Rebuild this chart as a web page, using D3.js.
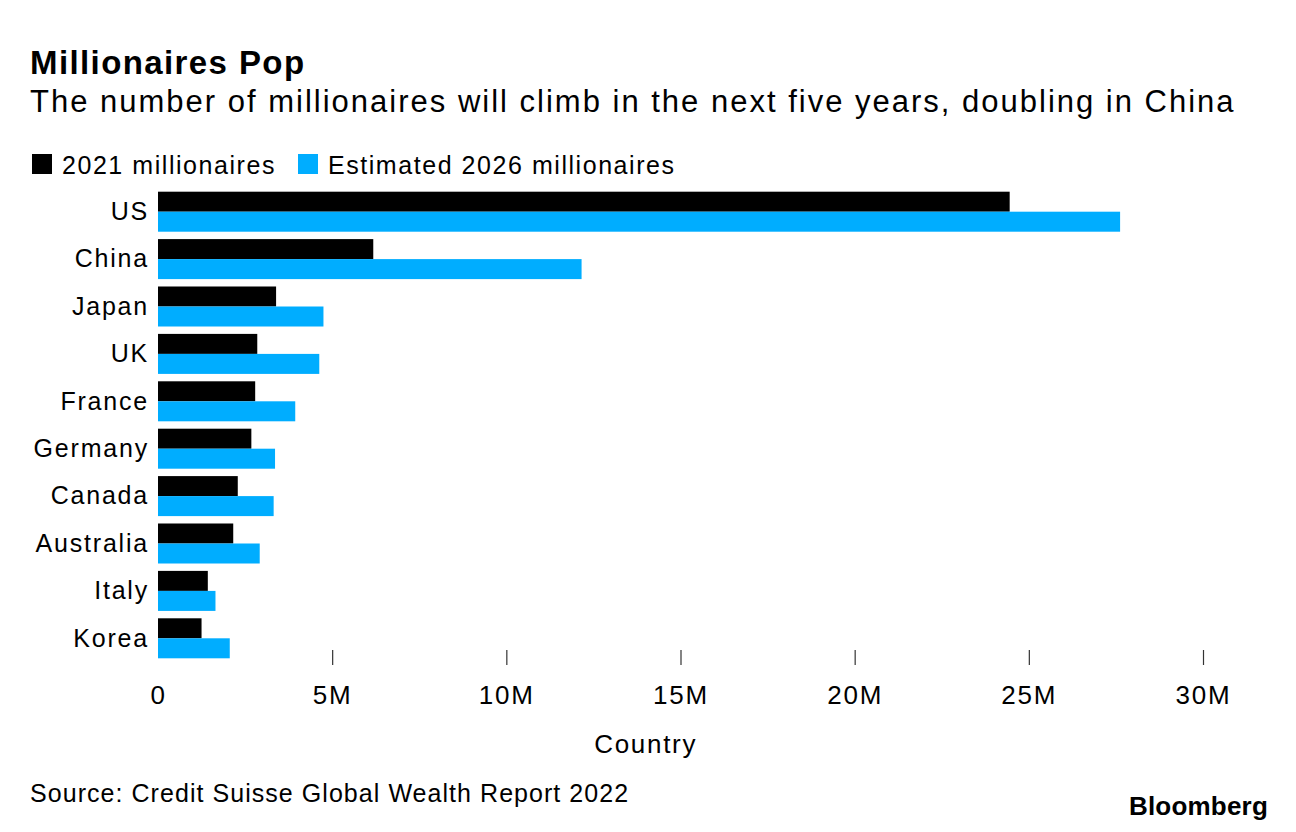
<!DOCTYPE html>
<html>
<head>
<meta charset="utf-8">
<script src="https://cdn.jsdelivr.net/npm/d3@7"></script>
<style>
  html, body { margin: 0; padding: 0; background: #fff; }
  svg text { font-family: "Liberation Sans", Arial, "Helvetica Neue", sans-serif; fill: #000; }
</style>
</head>
<body>
<svg id="chart" width="1296" height="832"></svg>
<script>
const countries = ["US", "China", "Japan", "UK", "France", "Germany", "Canada", "Australia", "Italy", "Korea"];
const millionaires2021 = [24.45, 6.18, 3.39, 2.85, 2.79, 2.68, 2.29, 2.16, 1.43, 1.25];
const millionaires2026 = [27.62, 12.16, 4.75, 4.63, 3.94, 3.36, 3.32, 2.92, 1.65, 2.06];
const seriesNames = ["2021 millionaires", "Estimated 2026 millionaires"];
const seriesColors = ["#000000", "#00adff"];
const xTicks = [0, 5, 10, 15, 20, 25, 30];
const xTickLabels = ["0", "5M", "10M", "15M", "20M", "25M", "30M"];

const svg = d3.select("#chart");

const x = d3.scaleLinear().domain([0, 30]).range([158, 1203]);
const y = d3.scaleBand().domain(countries).range([188, 662]).paddingInner(0.156).paddingOuter(0.078);
const sub = d3.scaleBand().domain([0, 1]).range([0, y.bandwidth()]);

// Title & subtitle
svg.append("text").attr("x", 30).attr("y", 74)
  .style("font-size", "33px").style("font-weight", "bold").style("letter-spacing", "1.4px")
  .text("Millionaires Pop");
svg.append("text").attr("x", 30).attr("y", 112)
  .style("font-size", "31px").style("letter-spacing", "2px")
  .text("The number of millionaires will climb in the next five years, doubling in China");

// Legend
const legendX = [32, 298];
seriesNames.forEach((name, i) => {
  svg.append("rect").attr("x", legendX[i]).attr("y", 154).attr("width", 20).attr("height", 20)
    .attr("fill", seriesColors[i]);
  svg.append("text").attr("x", legendX[i] + 30).attr("y", 174)
    .style("font-size", "25px").style("letter-spacing", "1.55px")
    .text(name);
});

// Bars
const rows = countries.map((c, i) => ({ c, vals: [millionaires2021[i], millionaires2026[i]] }));
const g = svg.append("g");
rows.forEach(r => {
  r.vals.forEach((v, k) => {
    g.append("rect")
      .attr("x", x(0))
      .attr("y", y(r.c) + sub(k))
      .attr("width", x(v) - x(0))
      .attr("height", sub.bandwidth())
      .attr("fill", seriesColors[k]);
  });
});

// Y axis labels
const yAxis = d3.axisLeft(y).tickSize(0).tickPadding(9);
const yG = svg.append("g").attr("transform", `translate(${x(0)},0)`).call(yAxis);
yG.select(".domain").remove();
yG.selectAll("text").style("font-size", "25px").style("letter-spacing", "1.8px")
  .style("font-family", "'Liberation Sans', Arial, sans-serif")
  .attr("fill", "#000").attr("dy", "0.33em");

// X axis
const xAxis = d3.axisBottom(x).tickValues(xTicks).tickFormat((d, i) => xTickLabels[i]).tickSize(15).tickPadding(21);
const xG = svg.append("g").attr("transform", "translate(0,650)").call(xAxis);
xG.select(".domain").remove();
xG.selectAll(".tick line").attr("stroke", "#333").attr("stroke-width", 1.2)
  .attr("opacity", (d) => d === 0 ? 0 : 1);
xG.selectAll("text").style("font-size", "26px").style("letter-spacing", "1.8px")
  .style("font-family", "'Liberation Sans', Arial, sans-serif")
  .attr("fill", "#000");

// Axis title
svg.append("text").attr("x", x(14)).attr("y", 753).attr("text-anchor", "middle")
  .style("font-size", "26px").style("letter-spacing", "1.7px").text("Country");

// Source
svg.append("text").attr("x", 30).attr("y", 802)
  .style("font-size", "25px").style("letter-spacing", "1.05px")
  .text("Source: Credit Suisse Global Wealth Report 2022");

// Bloomberg logo text
svg.append("text").attr("x", 1268).attr("y", 815).attr("text-anchor", "end")
  .style("font-size", "26px").style("font-weight", "bold").style("letter-spacing", "0.2px")
  .text("Bloomberg");
</script>
</body>
</html>
